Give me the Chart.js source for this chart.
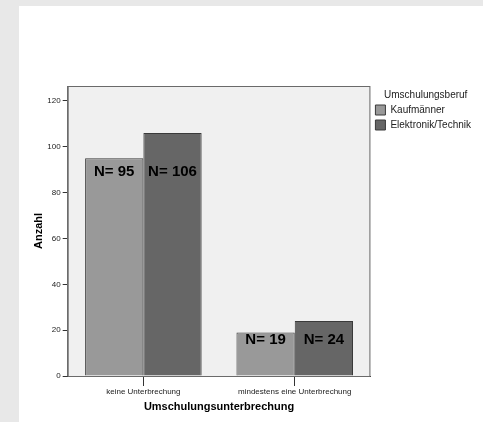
<!DOCTYPE html>
<html>
<head>
<meta charset="utf-8">
<script src="https://cdn.jsdelivr.net/npm/chart.js@4/dist/chart.umd.min.js"></script>
<style>
  html, body { margin: 0; padding: 0; background: #e8e8e8; }
  #panel { position: absolute; left: 19px; top: 6px; width: 464px; height: 416px; background: #fff; }
  #c { display: block; }
</style>
</head>
<body>
<div id="panel"><canvas id="c" width="464" height="416"></canvas></div>
<script>
const categories = ['keine Unterbrechung', 'mindestens eine Unterbrechung'];
const kaufmaenner = [95, 19];
const elektronik = [106, 24];
const seriesNames = ['Kaufmänner', 'Elektronik/Technik'];
const yTicks = [0, 20, 40, 60, 80, 100, 120];

const FONT = "'Liberation Sans', Arial, sans-serif";

// plot background and frame like SPSS
const frame = {
  id: 'frame',
  beforeDatasetsDraw(chart) {
    const { ctx, chartArea: a } = chart;
    ctx.save();
    ctx.fillStyle = '#f0f0f0';
    ctx.fillRect(a.left, a.top, a.right - a.left, a.bottom - a.top);
    ctx.restore();
  },
  afterDatasetsDraw(chart) {
    const { ctx, chartArea: a } = chart;
    ctx.save();
    ctx.strokeStyle = '#6a6a6a';
    ctx.lineWidth = 1;
    ctx.strokeRect(a.left + 0.5, a.top + 0.5, a.right - a.left - 1, a.bottom - a.top);
    ctx.restore();
  }
};

// "N= xx" labels inside bars, aligned per category
const nLabels = {
  id: 'nLabels',
  afterDatasetsDraw(chart) {
    const { ctx } = chart;
    const bottom = chart.scales.y.getPixelForValue(0);
    ctx.save();
    ctx.font = 'bold 15px ' + FONT;
    ctx.fillStyle = '#000';
    ctx.textAlign = 'center';
    ctx.textBaseline = 'middle';
    categories.forEach((c, i) => {
      let top = 0;
      chart.data.datasets.forEach((ds, d) => {
        top = Math.max(top, chart.getDatasetMeta(d).data[i].y);
      });
      const y = top + Math.min(14, (bottom - top) * 0.17);
      chart.data.datasets.forEach((ds, d) => {
        const bar = chart.getDatasetMeta(d).data[i];
        ctx.fillText('N= ' + ds.data[i], bar.x, y);
      });
    });
    ctx.restore();
  }
};

new Chart(document.getElementById('c'), {
  type: 'bar',
  data: {
    labels: categories,
    datasets: [{
      label: seriesNames[0],
      data: kaufmaenner,
      backgroundColor: '#999999',
      borderColor: '#3a3a3a',
      borderWidth: 1
    }, {
      label: seriesNames[1],
      data: elektronik,
      backgroundColor: '#666666',
      borderColor: '#3a3a3a',
      borderWidth: 1
    }]
  },
  options: {
    responsive: false,
    animation: false,
    datasets: { bar: { categoryPercentage: 0.77, barPercentage: 1.0 } },
    layout: { padding: { top: 80, bottom: 4, left: 13, right: 2 } },
    plugins: {
      tooltip: { enabled: false },
      legend: {
        position: 'right',
        align: 'start',
        title: { display: true, text: 'Umschulungsberuf', color: '#222', font: { family: FONT, size: 10, lineHeight: 1.0 }, padding: { top: 4, bottom: 0 } },
        labels: {
          boxWidth: 10, boxHeight: 10, padding: 5,
          color: '#222', font: { family: FONT, size: 10 }
        }
      }
    },
    scales: {
      x: {
        grid: { display: true, drawOnChartArea: false, offset: false, tickLength: 10, color: '#333' },
        border: { color: '#333' },
        ticks: { color: '#222', font: { family: FONT, size: 8 }, padding: 1 },
        title: { display: true, text: 'Umschulungsunterbrechung', color: '#000', font: { family: FONT, size: 11, weight: 'bold' }, padding: { top: 4 } },
        afterFit(s) { s.height = 42; }
      },
      y: {
        min: 0,
        max: 126.5,
        ticks: { stepSize: 20, color: '#222', font: { family: FONT, size: 8 }, padding: 2 },
        afterBuildTicks(s) { s.ticks = yTicks.map(v => ({ value: v })); },
        grid: { display: true, drawOnChartArea: false, tickLength: 5, color: '#333' },
        border: { color: '#333' },
        title: { display: true, text: 'Anzahl', color: '#000', font: { family: FONT, size: 11, weight: 'bold' }, padding: 0 },
        afterFit(s) { s.width = 35.7; }
      }
    }
  },
  plugins: [frame, nLabels]
});
</script>
</body>
</html>
